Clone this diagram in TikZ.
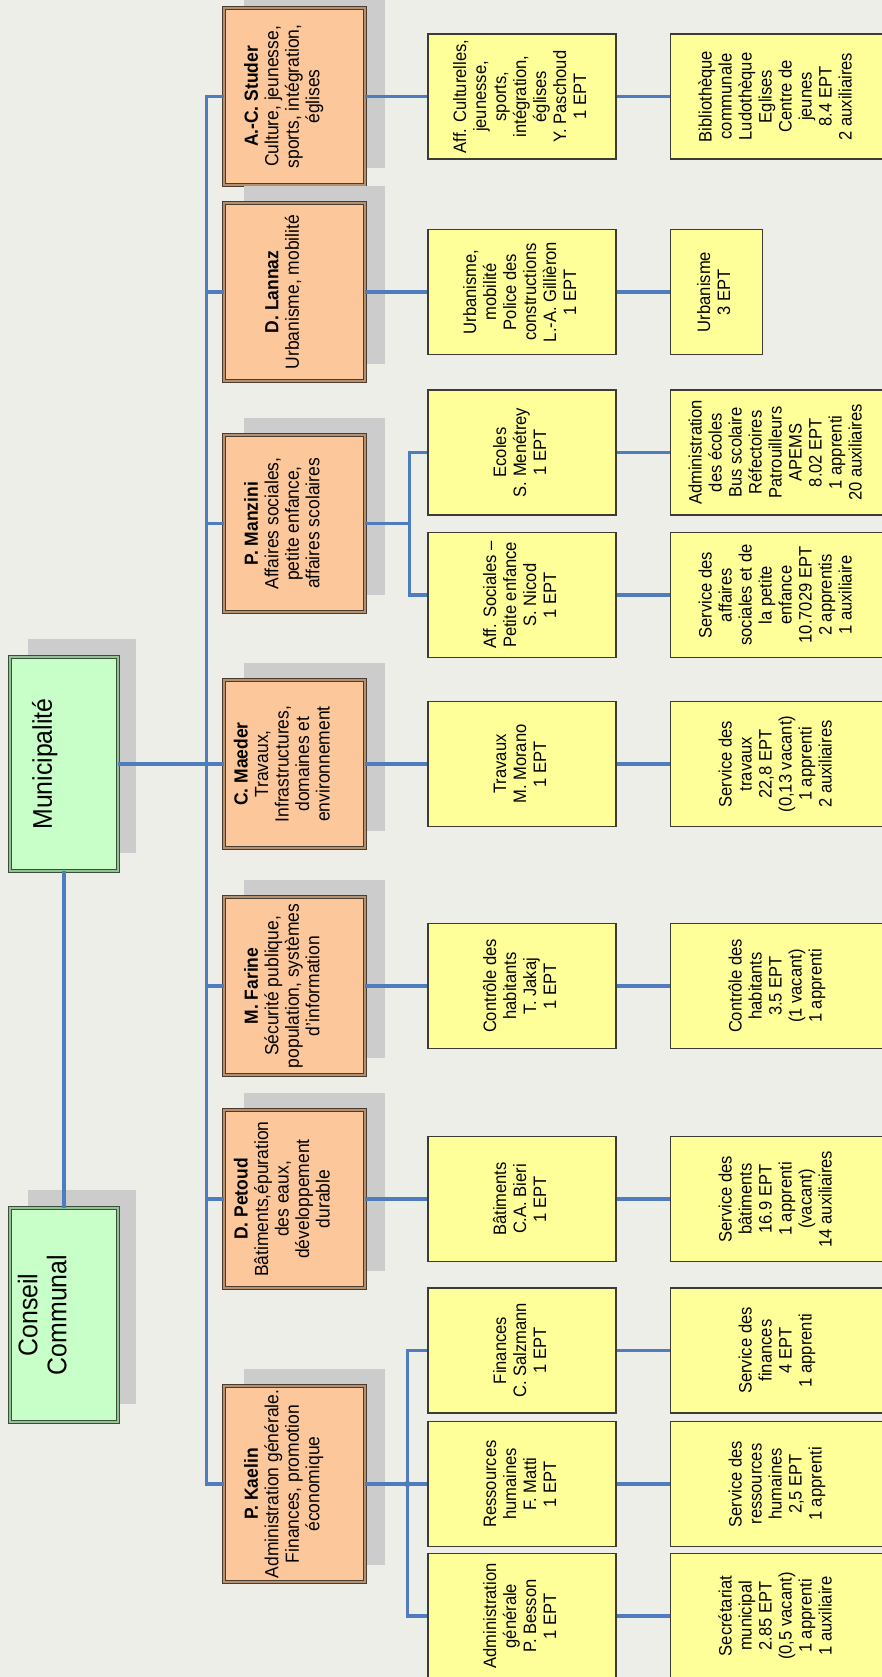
\documentclass[tikz,border=0pt]{standalone}
\usepackage{fontspec}
\setmainfont[FakeStretch=0.92]{Liberation Sans}
\usepackage{graphicx}
\usetikzlibrary{positioning, shadows}

\definecolor{bgcol}{RGB}{238,238,232}
\definecolor{linkblue}{RGB}{79,123,191}
\definecolor{shadegray}{RGB}{204,204,204}
\definecolor{greenfill}{RGB}{200,255,200}
\definecolor{greenline}{RGB}{55,80,55}
\definecolor{orangefill}{RGB}{252,200,155}
\definecolor{orangeline}{RGB}{75,60,48}
\definecolor{yellowfill}{RGB}{255,255,153}
\definecolor{yellowline}{RGB}{60,60,50}

\newcommand{\boxtext}[2][0pt]{\rotatebox{90}{\begin{tabular}{@{}c@{}}#2\end{tabular}}\hspace*{#1}}

\tikzstyle{council} = [rectangle, draw=greenline, double=greenfill!65!greenline, double distance=1.6pt, line width=0.8pt, fill=greenfill, minimum width=108pt, minimum height=214pt, inner sep=0pt, font=\fontsize{27}{29}\selectfont, drop shadow={shadow xshift=18pt, shadow yshift=18pt, fill=shadegray, opacity=1}]
\tikzstyle{member} = [rectangle, draw=orangeline, double=orangefill!60!orangeline, double distance=1.6pt, line width=0.8pt, fill=orangefill, minimum width=141pt, inner sep=0pt, font=\fontsize{19}{20.5}\selectfont, drop shadow={shadow xshift=20pt, shadow yshift=17pt, fill=shadegray, opacity=1}]
\tikzstyle{service} = [rectangle, draw=yellowline, line width=1.2pt, fill=yellowfill, minimum width=188pt, minimum height=125pt, inner sep=0pt, font=\fontsize{18}{20}\selectfont]
\tikzstyle{unit} = [service, minimum width=215pt]
\tikzstyle{link} = [draw=linkblue, line width=3.2pt]

\begin{document}
\begin{tikzpicture}[x=1pt, y=-1pt, node distance=53pt]
    % Background
    \fill [bgcol] (0,0) rectangle (882,1677);
    \useasboundingbox (0,0) rectangle (882,1677);

    % Council
    \node [council] (muni) at (64,764) {\boxtext[36pt]{Municipalité}};
    \node [council] (cc) at (64,1315) {\boxtext[36pt]{Conseil\\Communal}};

    % Municipal members
    \node [member, minimum height=177pt] (studer) at (294.5,96.5) {\boxtext[20pt]{\textbf{A.-C. Studer}\\Culture, jeunesse,\\sports, intégration,\\églises}};
    \node [member, minimum height=178pt] (lannaz) at (294.5,292) {\boxtext[20pt]{\textbf{D. Lannaz}\\Urbanisme, mobilité}};
    \node [member, minimum height=177pt] (manzini) at (294.5,523.5) {\boxtext[20pt]{\textbf{P. Manzini}\\Affaires sociales,\\petite enfance,\\affaires scolaires}};
    \node [member, minimum height=168pt] (maeder) at (294.5,764) {\boxtext[20pt]{\textbf{C. Maeder}\\Travaux,\\Infrastructures,\\domaines et\\environnement}};
    \node [member, minimum height=178pt] (farine) at (294.5,986) {\boxtext[20pt]{\textbf{M. Farine}\\Sécurité publique,\\population, systèmes\\d'information}};
    \node [member, minimum height=178pt] (petoud) at (294.5,1199) {\boxtext[20pt]{\textbf{D. Petoud}\\Bâtiments,épuration\\des eaux,\\développement\\durable}};
    \node [member, minimum height=196pt] (kaelin) at (294.5,1484) {\boxtext[20pt]{\textbf{P. Kaelin}\\Administration générale.\\Finances, promotion\\économique}};

    % Departments
    \node [service] (cult) at (522,96.5) {\boxtext{Aff. Culturelles,\\jeunesse,\\sports,\\intégration,\\églises\\Y. Paschoud\\1 EPT}};
    \node [service] (urba) at (522,292) {\boxtext{Urbanisme,\\mobilité\\Police des\\constructions\\L.-A. Gillièron\\1 EPT}};
    \node [service] (ecoles) at (522,452.5) {\boxtext{Ecoles\\S. Menétrey\\1 EPT}};
    \node [service] (affs) at (522,595) {\boxtext{Aff. Sociales --\\Petite enfance\\S. Nicod\\1 EPT}};
    \node [service] (trav) at (522,764) {\boxtext{Travaux\\M. Morano\\1 EPT}};
    \node [service] (ctrl) at (522,986) {\boxtext{Contrôle des\\habitants\\T. Jakaj\\1 EPT}};
    \node [service] (bat) at (522,1199) {\boxtext{Bâtiments\\C.A. Bieri\\1 EPT}};
    \node [service] (fin) at (522,1350.5) {\boxtext{Finances\\C. Salzmann\\1 EPT}};
    \node [service] (rh) at (522,1484) {\boxtext{Ressources\\humaines\\F. Matti\\1 EPT}};
    \node [service] (adm) at (522,1616) {\boxtext{Administration\\générale\\P. Besson\\1 EPT}};

    % Services
    \node [unit, right=of cult] (biblio) {\boxtext{Bibliothèque\\communale\\Ludothèque\\Eglises\\Centre de\\jeunes\\8.4 EPT\\2 auxiliaires}};
    \node [unit, minimum width=92pt, right=of urba] (urba3) {\boxtext{Urbanisme\\3 EPT}};
    \node [unit, right=of ecoles] (admec) {\boxtext{Administration\\des écoles\\Bus scolaire\\Réfectoires\\Patrouilleurs\\APEMS\\8.02 EPT\\1 apprenti\\20 auxiliaires}};
    \node [unit, right=of affs] (servaff) {\boxtext{Service des\\affaires\\sociales et de\\la petite\\enfance\\10.7029 EPT\\2 apprentis\\1 auxiliaire}};
    \node [unit, right=of trav] (servtrav) {\boxtext{Service des\\travaux\\22,8 EPT\\(0,13 vacant)\\1 apprenti\\2 auxiliaires}};
    \node [unit, right=of ctrl] (servctrl) {\boxtext{Contrôle des\\habitants\\3.5 EPT\\(1 vacant)\\1 apprenti}};
    \node [unit, right=of bat] (servbat) {\boxtext{Service des\\bâtiments\\16.9 EPT\\1 apprenti\\(vacant)\\14 auxiliaires}};
    \node [unit, right=of fin] (servfin) {\boxtext{Service des\\finances\\4 EPT\\1 apprenti}};
    \node [unit, right=of rh] (servrh) {\boxtext{Service des\\ressources\\humaines\\2,5 EPT\\1 apprenti}};
    \node [unit, right=of adm] (secr) {\boxtext{Secrétariat\\municipal\\2.85 EPT\\(0,5 vacant)\\1 apprenti\\1 auxiliaire}};

    % Lines
    \path [link] (cc.north) -- (muni.south);
    \path [link] (muni.east) -- (maeder.west);
    \path [link] (studer.west) -- ++(-17,0) |- (kaelin.west);
    \foreach \m in {lannaz, manzini, farine, petoud}
        \path [link] (\m.west) -- ++(-17,0);
    \foreach \a/\b in {studer/cult, lannaz/urba, maeder/trav, farine/ctrl, petoud/bat, kaelin/rh}
        \path [link] (\a.east) -- (\a.east -| \b.west);
    \path [link] (manzini.east) -- ++(45,0);
    \path [link] (ecoles.west) -- ++(-18,0) |- (affs.west);
    \path [link] (fin.west) -- ++(-20,0) coordinate (kfork) |- (adm.west);
    \fill [linkblue] (kfork |- rh.west) circle (3.2pt);
    \foreach \a/\b in {cult/biblio, urba/urba3, ecoles/admec, affs/servaff, trav/servtrav, ctrl/servctrl, bat/servbat, fin/servfin, rh/servrh, adm/secr}
        \path [link] (\a.east) -- (\b.west);
\end{tikzpicture}
\end{document}
